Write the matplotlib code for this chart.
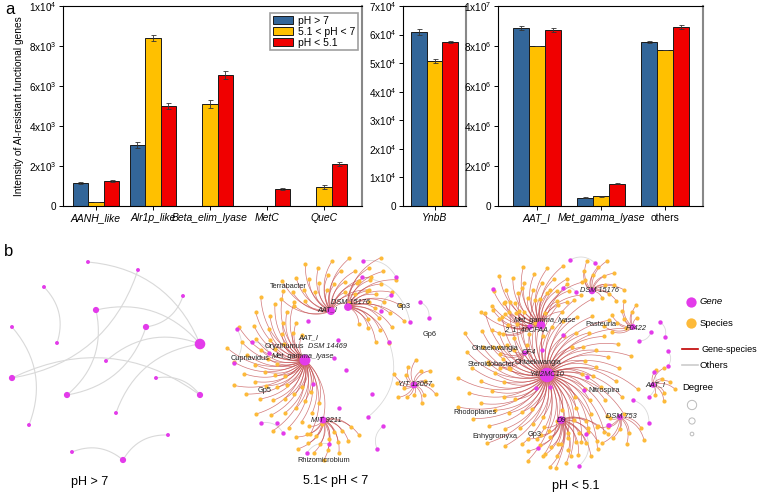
import numpy as np
import matplotlib
matplotlib.use("Agg")
import matplotlib.pyplot as plt
from matplotlib.collections import LineCollection

plt.rcParams['font.family'] = ['Liberation Sans', 'DejaVu Sans']
plt.rcParams['mathtext.fontset'] = 'custom'
plt.rcParams['mathtext.rm'] = 'Liberation Sans'
plt.rcParams['mathtext.it'] = 'Liberation Sans:italic'

# ---------------- panel a data ----------------
groups_left = ['AANH_like', 'Alr1p_like', 'Beta_elim_lyase', 'MetC', 'QueC']
left_gt7 = [1150, 3050, 0, 0, 0]
left_mid = [200, 8400, 5100, 0, 950]
left_low = [1250, 5000, 6550, 850, 2100]
left_err_gt7 = [70, 150, 0, 0, 0]
left_err_mid = [20, 170, 180, 0, 80]
left_err_low = [50, 130, 220, 60, 120]

groups_mid = ['YnbB']
mid_gt7 = [61000]
mid_mid = [50800]
mid_low = [57500]
mid_err_gt7 = [1000]
mid_err_mid = [600]
mid_err_low = [300]

groups_right = ['AAT_I', 'Met_gamma_lyase', 'others']
right_gt7 = [8.9e6, 0.42e6, 8.2e6]
right_mid = [8.0e6, 0.48e6, 7.8e6]
right_low = [8.8e6, 1.12e6, 8.95e6]
right_err_gt7 = [0.1e6, 0.02e6, 0.06e6]
right_err_mid = [0.01e6, 0.01e6, 0.01e6]
right_err_low = [0.1e6, 0.02e6, 0.1e6]

series_names = ['pH > 7', '5.1 < pH < 7', 'pH < 5.1']
colors = ['#336699', '#FFC000', '#F00000']

left_ticks = [0, 2000, 4000, 6000, 8000, 10000]
left_ticklabels = ['0', r'$\mathrm{2x10^3}$', r'$\mathrm{4x10^3}$', r'$\mathrm{6x10^3}$',
                   r'$\mathrm{8x10^3}$', r'$\mathrm{1x10^4}$']
mid_ticks = [0, 10000, 20000, 30000, 40000, 50000, 60000, 70000]
mid_ticklabels = ['0'] + [r'$\mathrm{%dx10^4}$' % k for k in range(1, 8)]
right_ticks = [0, 2e6, 4e6, 6e6, 8e6, 1e7]
right_ticklabels = ['0', r'$\mathrm{2x10^6}$', r'$\mathrm{4x10^6}$', r'$\mathrm{6x10^6}$',
                    r'$\mathrm{8x10^6}$', r'$\mathrm{1x10^7}$']

# ---------------- panel b data ----------------
# network pH > 7 : only gene nodes, gene-gene links
net1_edges = [(0, 8), (1, 10), (2, 7), (3, 5), (4, 8), (4, 12), (5, 12), (9, 8),
              (10, 13), (11, 13), (14, 8), (6, 15), (17, 18), (18, 16)]

# network 5.1 < pH < 7 : hub genes and number of linked species
net2_hubs = ['Met_gamma_lyase', 'AAT_I', 'DSM 15176', 'MIT 9211', 'YIT 12067']
net2_degree = [55, 26, 24, 18, 16]

# network pH < 5.1
net3_hubs = ['Y4I2MC10', 'Met_gamma_lyase', '2_1_40CFAA', 'OF4', 'D9',
             'DSM 15176', 'F0422', 'AAT_I', 'DSM 753']
net3_degree = [100, 30, 8, 6, 24, 14, 10, 8, 10]

# ---------------- layout (pixel coordinates of the network panel) -------------
net1_pos = [(88, 262), (138, 270), (44, 287), (183, 296), (96, 310), (146, 327),
            (12, 327), (57, 343), (200, 344), (106, 361), (12, 378), (156, 378),
            (67, 395), (200, 395), (116, 413), (29, 425), (168, 435), (72, 452),
            (123, 460)]

# hub: centre, fan start/end angle (deg), inner/outer radius
net2_layout = [((305, 360), 95, 290, 25, 80), ((331, 311), 20, 175, 20, 58),
               ((348, 307), -60, 70, 20, 60), ((323, 420), 200, 350, 15, 42),
               ((414, 385), -100, 250, 10, 26)]
net2_extra = [(363, 261), (362, 277), (396, 277), (381, 311), (410, 322), (237, 329),
              (252, 342), (234, 363), (269, 353), (308, 321), (338, 340), (334, 358),
              (346, 370), (313, 384), (389, 342), (372, 394), (368, 417), (383, 426),
              (261, 423), (277, 423), (283, 433), (329, 444), (307, 453), (377, 449),
              (339, 408), (391, 295), (420, 302), (429, 318)]
net2_extra_edges = [(0, 2), (1, 4), (5, 7), (6, 8), (14, 16), (18, 20), (22, 21),
                    (23, 17), (26, 27), (3, 25)]

net3_layout = [((547, 375), 0, 360, 35, 95), ((541, 325), 30, 170, 25, 65),
               ((530, 327), 120, 200, 20, 45), ((525, 353), 150, 230, 20, 40),
               ((561, 420), 200, 360, 18, 50), ((592, 291), -40, 130, 12, 35),
               ((633, 327), 60, 200, 10, 30), ((653, 385), -90, 90, 10, 25),
               ((620, 417), 180, 340, 10, 35)]
net3_extra = [(570, 260), (595, 263), (563, 288), (576, 292), (493, 289), (563, 335),
              (542, 350), (587, 377), (584, 390), (536, 388), (550, 387), (609, 425),
              (586, 434), (538, 448), (579, 466), (660, 322), (651, 332), (639, 341),
              (665, 337), (668, 351), (668, 366), (654, 372), (633, 400), (649, 397),
              (649, 423), (608, 425)]
net3_extra_edges = [(0, 1), (15, 18), (16, 17), (19, 20), (21, 23), (22, 24),
                    (11, 25), (12, 14), (2, 3)]

net2_labels = [('Terrabacter', 270, 286, False), ('AAT_I', 317, 310, True),
               ('DSM 15176', 331, 303, True), ('Gp3', 397, 307, False),
               ('AAT_I', 298, 338, True), ('DSM 14469', 308, 346, True),
               ('Oryzihumus', 265, 347, False), ('Cupriavidus', 231, 359, False),
               ('Met_gamma_lyase', 272, 357, True), ('Gp5', 258, 391, False),
               ('Gp6', 423, 335, False), ('YIT 12067', 398, 385, True),
               ('MIT 9211', 311, 420, True), ('Rhizomicrobium', 297, 460, False)]
net3_labels = [('Met_gamma_lyase', 514, 321, True), ('2_1_40CFAA', 504, 330, True),
               ('Pasteuria', 585, 324, False), ('Ohtaekwangia', 472, 349, False),
               ('OF4', 522, 353, True), ('Steroidobacter', 468, 364, False),
               ('Ohtaekwangia', 515, 362, False), ('Y4I2MC10', 529, 375, True),
               ('Nitrospira', 588, 391, False), ('Rhodoplanes', 453, 412, False),
               ('D9', 557, 420, True), ('Enhygromyxa', 472, 437, False),
               ('Gp3', 528, 435, False), ('DSM 15176', 580, 291, True),
               ('F0422', 626, 329, True), ('AAT_I', 645, 385, True),
               ('DSM 753', 606, 417, True)]

GENE = '#E33BEA'
SPECIES = '#FDBA3A'
GS_EDGE = '#C2494B'
OTHER_EDGE = '#D9D9D9'

W, H = 760, 493
fig = plt.figure(figsize=(W / 100, H / 100), dpi=100)


def px_axes(l, r, t, b):
    return fig.add_axes([l / W, 1 - b / H, (r - l) / W, (b - t) / H])


def bar_panel(ax, groups, vals, errs, width, xlim, ylim, ticks, ticklabels):
    x = np.arange(len(groups))
    for i, (v, e) in enumerate(zip(vals, errs)):
        xs = x + (i - 1) * width
        ax.bar(xs, v, width, color=colors[i], edgecolor='#1a1a1a', linewidth=0.7,
               label=series_names[i], zorder=2)
        v = np.array(v, float)
        e = np.array(e, float)
        m = v > 0
        ax.errorbar(xs[m], v[m], yerr=e[m], fmt='none', ecolor='#333333',
                    elinewidth=0.6, capsize=1.8, capthick=0.6, zorder=3)
    ax.set_xlim(*xlim)
    ax.set_ylim(*ylim)
    ax.set_xticks(x)
    ax.set_xticklabels(groups, fontsize=7.5, style='italic')
    ax.set_yticks(ticks)
    ax.set_yticklabels(ticklabels, fontsize=7.2)
    ax.tick_params(direction='out', length=3, width=0.7, pad=2)
    for s in ['left', 'top', 'bottom']:
        ax.spines[s].set_linewidth(0.8)
    ax.spines['right'].set_color('#888888')
    ax.spines['right'].set_linewidth(1.5)


ax1 = px_axes(63, 362, 6, 206)
bar_panel(ax1, groups_left, [left_gt7, left_mid, left_low],
          [left_err_gt7, left_err_mid, left_err_low], 0.272,
          (-0.579, 4.667), (0, 10000), left_ticks, left_ticklabels)
ax1.set_ylabel('Intensity of Al-resistant functional genes', fontsize=7.3, labelpad=3)
leg = ax1.legend(loc='upper right', bbox_to_anchor=(0.985, 0.965), fontsize=7.5,
                 frameon=True, fancybox=False, handlelength=2.0, handleheight=0.9,
                 labelspacing=0.1, borderpad=0.25, handletextpad=0.4, borderaxespad=0)
leg.get_frame().set_edgecolor('#888888')
leg.get_frame().set_linewidth(1.2)

ax2 = px_axes(403, 466, 6, 206)
bar_panel(ax2, groups_mid, [mid_gt7, mid_mid, mid_low],
          [mid_err_gt7, mid_err_mid, mid_err_low], 0.246,
          (-0.5, 0.5), (0, 70000), mid_ticks, mid_ticklabels)

ax3 = px_axes(498, 703, 6, 206)
bar_panel(ax3, groups_right, [right_gt7, right_mid, right_low],
          [right_err_gt7, right_err_mid, right_err_low], 0.25,
          (-0.609, 2.594), (0, 1e7), right_ticks, right_ticklabels)
ax3.get_xticklabels()[2].set_style('normal')

fig.text(5 / W, 1 - 9 / H, 'a', fontsize=12, va='center')
fig.text(4 / W, 1 - 252 / H, 'b', fontsize=12, va='center')

# ---------------- networks ----------------
axn = fig.add_axes([0, 0, 1, 250 / H])
axn.set_xlim(0, W)
axn.set_ylim(H, H - 250)
axn.axis('off')


def curve(p, q, rad=-0.3, n=18):
    p = np.asarray(p, float)
    q = np.asarray(q, float)
    d = q - p
    c = (p + q) / 2 + rad * np.array([-d[1], d[0]])
    t = np.linspace(0, 1, n)[:, None]
    return (1 - t) ** 2 * p + 2 * (1 - t) * t * c + t ** 2 * q


def fan(center, a0, a1, r0, r1, n):
    pts = []
    for i in range(n):
        a = np.radians(a0 + (a1 - a0) * (i + 0.5) / n)
        r = r0 + (r1 - r0) * ((i * 0.618034) % 1)
        pts.append((center[0] + r * np.cos(a), center[1] - r * np.sin(a)))
    return pts


# network 1
deg1 = np.zeros(len(net1_pos))
for a, b in net1_edges:
    deg1[a] += 1
    deg1[b] += 1
segs = [curve(net1_pos[a], net1_pos[b], -0.3) for a, b in net1_edges]
axn.add_collection(LineCollection(segs, colors=OTHER_EDGE, linewidths=0.8, zorder=1))
p1 = np.array(net1_pos)
axn.scatter(p1[:, 0], p1[:, 1], s=8 + 12 * (deg1 - 1) ** 1.3, color=GENE,
            linewidths=0, zorder=3)


def draw_network(hubs, degree, layout, extra, extra_edges, labels):
    gs_segs, leaves = [], []
    for (center, a0, a1, r0, r1), n in zip(layout, degree):
        for pt in fan(center, a0, a1, r0, r1, n):
            leaves.append(pt)
            gs_segs.append(curve(center, pt, -0.3))
    oth = [curve(extra[a], extra[b], -0.35) for a, b in extra_edges]
    axn.add_collection(LineCollection(oth, colors=OTHER_EDGE, linewidths=0.6, zorder=1))
    axn.add_collection(LineCollection(gs_segs, colors=GS_EDGE, linewidths=0.5,
                                      alpha=0.75, zorder=2))
    lv = np.array(leaves)
    axn.scatter(lv[:, 0], lv[:, 1], s=9, color=SPECIES, linewidths=0, zorder=3)
    ex = np.array(extra)
    axn.scatter(ex[:, 0], ex[:, 1], s=10, color=GENE, linewidths=0, zorder=3)
    hc = np.array([l[0] for l in layout])
    axn.scatter(hc[:, 0], hc[:, 1], s=8 + np.array(degree) * 1.0, color=GENE,
                linewidths=0, zorder=4)
    for txt, x, y, it in labels:
        axn.text(x, y, txt, fontsize=5.3, style='italic' if it else 'normal',
                 color='#222222', va='center', ha='left', zorder=5)


draw_network(net2_hubs, net2_degree, net2_layout, net2_extra, net2_extra_edges, net2_labels)
draw_network(net3_hubs, net3_degree, net3_layout, net3_extra, net3_extra_edges, net3_labels)

axn.text(90, 482, 'pH > 7', fontsize=9, ha='center', va='center')
axn.text(336, 481, '5.1< pH < 7', fontsize=9, ha='center', va='center')
axn.text(576, 486, 'pH < 5.1', fontsize=9, ha='center', va='center')

# network legend
axn.scatter([691], [302], s=55, color=GENE, linewidths=0, zorder=4)
axn.scatter([691], [323], s=55, color=SPECIES, linewidths=0, zorder=4)
axn.text(700, 302, 'Gene', fontsize=6.8, style='italic', va='center')
axn.text(700, 323, 'Species', fontsize=6.8, va='center')
axn.plot([682, 698], [349, 349], color='#C00000', lw=1.2)
axn.plot([682, 698], [365, 365], color='#CCCCCC', lw=1.2)
axn.text(702, 350, 'Gene-species', fontsize=6.5, va='center')
axn.text(700, 366, 'Others', fontsize=6.8, va='center')
axn.text(682, 388, 'Degree', fontsize=6.8, va='center')
axn.scatter([692, 692, 692], [405, 421, 434], s=[45, 20, 7], facecolors='none',
            edgecolors='#BBBBBB', linewidths=0.7)

fig.savefig('out.png', dpi=100)
